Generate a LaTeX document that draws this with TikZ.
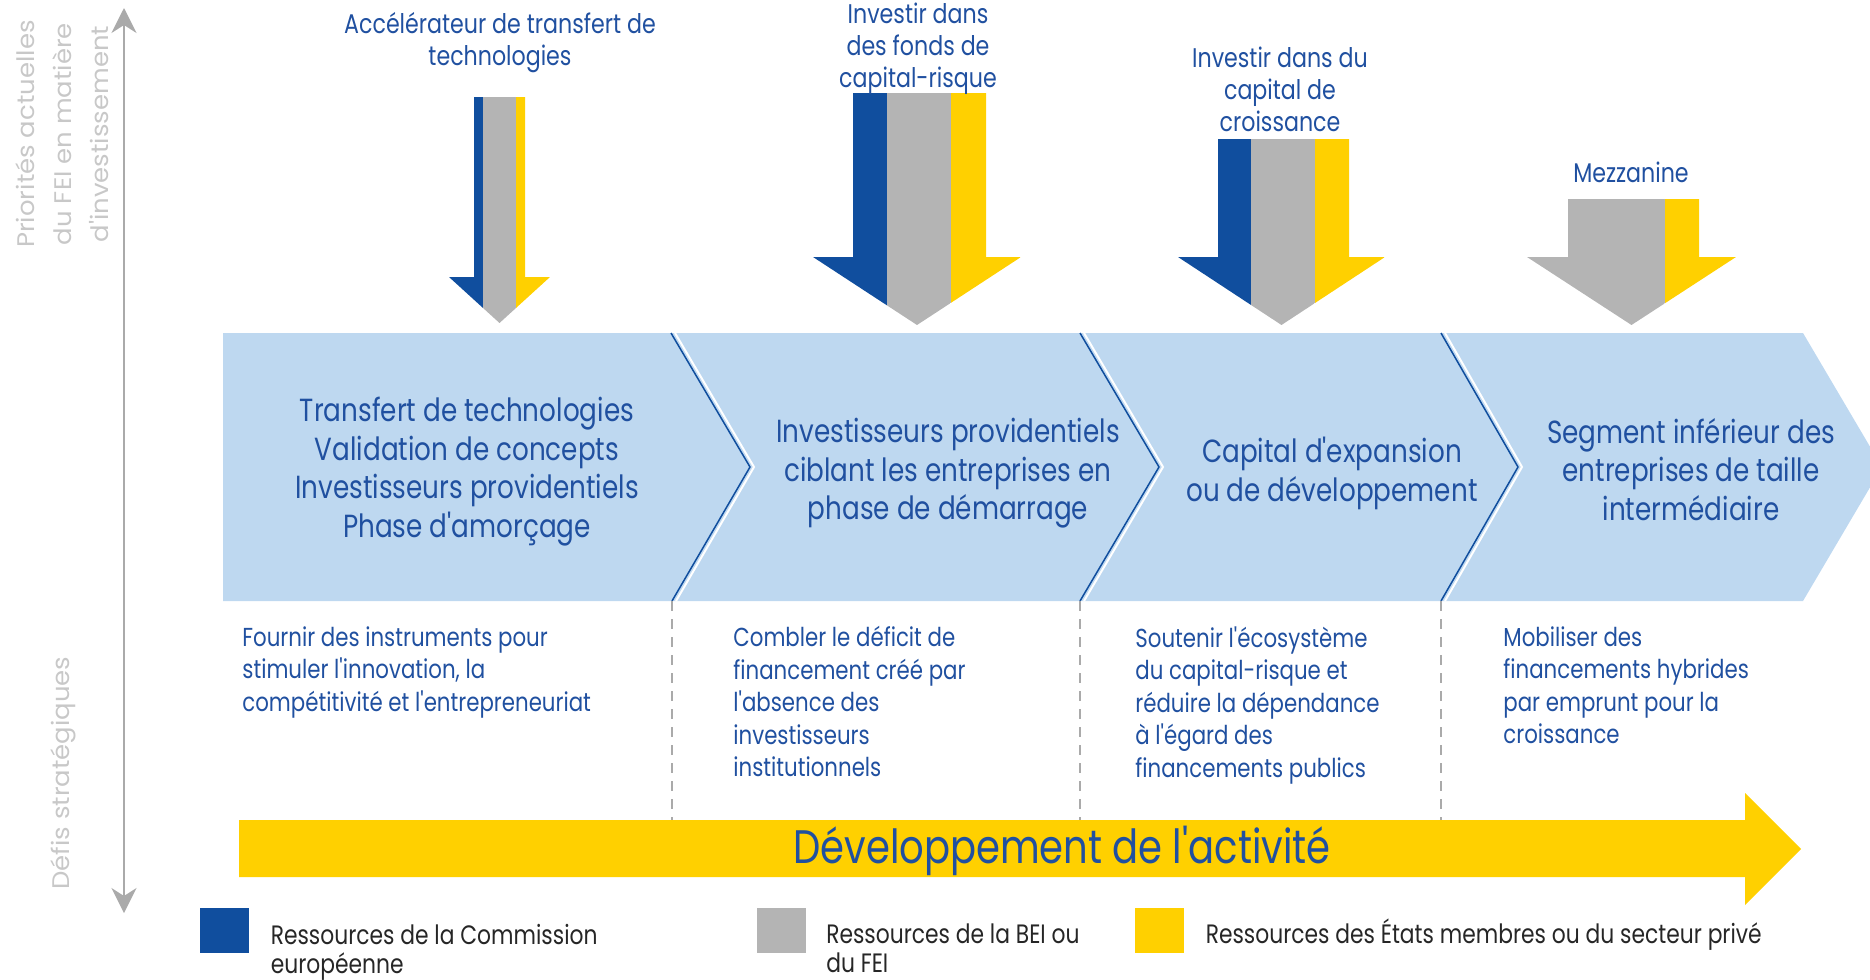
\documentclass[tikz,border=0pt]{standalone}
\usepackage{fontspec}
\newfontfamily\condfont{Poppins}[FakeStretch=0.82]
\newfontfamily\widefont{Poppins}[FakeStretch=1.08]
\usetikzlibrary{positioning, arrows.meta}
\definecolor{eublue}{RGB}{16,78,158}
\definecolor{eugray}{RGB}{180,180,180}
\definecolor{euyellow}{RGB}{255,208,0}
\definecolor{txtblue}{RGB}{32,80,160}
\definecolor{bandblue}{RGB}{190,216,240}
\definecolor{axisgray}{RGB}{170,170,170}
\definecolor{labelgray}{RGB}{200,200,200}

\begin{document}
\begin{tikzpicture}[x=0.5pt, y=-0.5pt,
    toplabel/.style={text=txtblue, align=center, inner sep=0pt, font=\condfont\fontsize{13.5}{16}\selectfont},
    bandtext/.style={text=txtblue, align=center, inner sep=0pt, font=\condfont\fontsize{16}{19.25}\selectfont},
    challenge/.style={text=txtblue, align=left, inner sep=0pt, font=\condfont\fontsize{13}{16.25}\selectfont},
    legbox/.style={minimum width=24.5pt, minimum height=22.5pt, inner sep=0pt},
    legtext/.style={text=black!85, align=left, inner sep=0pt, font=\condfont\fontsize{13.3}{14.5}\selectfont},
    axislabel/.style={text=labelgray, align=center, rotate=90, inner sep=0pt, font=\widefont\fontsize{12}{18.5}\selectfont},
    divider/.style={draw=eublue, line width=0.75pt},
    sep/.style={draw=axisgray, line width=0.8pt, dash pattern=on 5pt off 4pt}]
        \useasboundingbox (0,0) rectangle (1870,980);
        \clip (0,0) rectangle (1870,980);

        % Band of stages
        \fill[bandblue] (223,333) -- (1803,333) -- (1882,467) -- (1803,601) -- (223,601) -- cycle;
        \coordinate (t1) at (671,333);  \coordinate (m1) at (750,467);  \coordinate (b1) at (672,601);
        \coordinate (t2) at (1080,333); \coordinate (m2) at (1159,467); \coordinate (b2) at (1080,601);
        \coordinate (t3) at (1441,333); \coordinate (m3) at (1518,467); \coordinate (b3) at (1441,601);
        \coordinate (bartop) at (0,820);
        \foreach \i in {1,2,3} {
            \draw[white, line width=1pt] ([xshift=2pt]t\i) -- ([xshift=2pt]m\i) -- ([xshift=2pt]b\i);
            \draw[divider] (t\i) -- (m\i) -- (b\i);
            \draw[sep] (b\i) -- (b\i |- bartop);
        }

        % Resource arrows
        \foreach \xl/\ba/\bb/\xr/\ytop/\hl/\hr/\sh/\tip in {474/483/516/525/97/449/550/277/323,
                853/887/951/986/93/813/1021/257/325, 1218/1251/1315/1349/139/1178/1385/257/325,
                1568/1527/1665/1699/199/1527/1736/257/325} {
            \begin{scope}
                \clip (\xl,\ytop) -- (\xr,\ytop) -- (\xr,\sh) -- (\hr,\sh) -- ({(\hl+\hr)/2},\tip) -- (\hl,\sh) -- (\xl,\sh) -- cycle;
                \fill[eublue] (\hl,\ytop) rectangle (\ba,\tip);
                \fill[eugray] (\ba,\ytop) rectangle (\bb,\tip);
                \fill[euyellow] (\bb,\ytop) rectangle (\hr,\tip);
            \end{scope}
        }

        % Growth arrow
        \fill[euyellow] (239,820) -- (1745,820) -- (1745,793) -- (1801,849) -- (1745,905) -- (1745,877) -- (239,877) -- cycle;
        \node[text=txtblue, inner sep=0pt, font=\condfont\fontsize{23.5}{28}\selectfont, anchor=base] (dev) at (1062,863) {Développement de l'activité};

        % Axis
        \coordinate (axtop) at (124,8);
        \coordinate (axbot) at (124,913);
        \draw[axisgray, line width=0.8pt, {Stealth[length=12.5pt, width=12.5pt, inset=4pt]}-{Stealth[length=12.5pt, width=12.5pt, inset=4pt]}] (axtop) -- (axbot);
        \node[axislabel] (prio) at (62,134) {Priorités actuelles\\du FEI en matière\\d'investissement};
        \node[axislabel] (defis) at (63,773) {Défis stratégiques};

        % Arrow labels
        \node[toplabel, anchor=north] (tto) at (500,12) {Accélérateur de transfert de\\technologies};
        \node[toplabel, anchor=north] (vc) at (918,3) {Investir dans\\des fonds de\\capital-risque};
        \node[toplabel, anchor=north] (growth) at (1280,47) {Investir dans du\\capital de\\croissance};
        \node[toplabel, anchor=north] (mezz) at (1631,162) {Mezzanine};

        % Stages
        \node[bandtext, anchor=north] (s1) at (467,397) {Transfert de technologies\\Validation de concepts\\Investisseurs providentiels\\Phase d'amorçage};
        \node[bandtext, anchor=north] (s2) at (948,418) {Investisseurs providentiels\\ciblant les entreprises en\\phase de démarrage};
        \node[bandtext, anchor=north] (s3) at (1332,437) {Capital d'expansion\\ou de développement};
        \node[bandtext, anchor=north] (s4) at (1691,418) {Segment inférieur des\\entreprises de taille\\intermédiaire};

        % Challenges
        \node[challenge, anchor=north west] (c1) at (242,626) {Fournir des instruments pour\\stimuler l'innovation, la\\compétitivité et l'entrepreneuriat};
        \node[challenge, anchor=north west] (c2) at (733,626) {Combler le déficit de\\financement créé par\\l'absence des\\investisseurs\\institutionnels};
        \node[challenge, anchor=north west] (c3) at (1135,626) {Soutenir l'écosystème\\du capital-risque et\\réduire la dépendance\\à l'égard des\\financements publics};
        \node[challenge, anchor=north west] (c4) at (1503,626) {Mobiliser des\\financements hybrides\\par emprunt pour la\\croissance};

        % Legend
        \node[legbox, fill=eublue] (sq1) at (224.5,930.5) {};
        \node[legbox, fill=eugray] (sq2) at (781,930.5) {};
        \node[legbox, fill=euyellow] (sq3) at (1159.5,930.5) {};
        \node[legtext, below right=8pt and 10.5pt of sq1.north east] (l1) {Ressources de la Commission\\européenne};
        \node[legtext, below right=8pt and 10pt of sq2.north east] (l2) {Ressources de la BEI ou\\du FEI};
        \node[legtext, below right=5.6pt and 10.5pt of sq3.north east] (l3) {Ressources des États membres ou du secteur privé};
    \end{tikzpicture}
\end{document}
